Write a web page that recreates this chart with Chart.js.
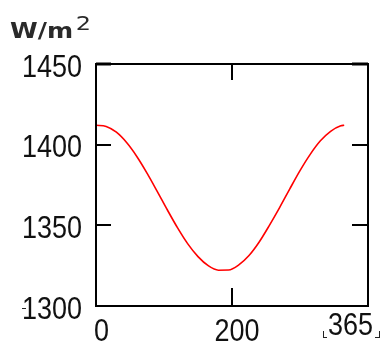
<!DOCTYPE html>
<html>
<head>
<meta charset="utf-8">
<script src="https://cdn.jsdelivr.net/npm/chart.js@4"></script>
<style>
    html, body { margin: 0; padding: 0; background: #fff; }
    #wrap { width: 381px; height: 341px; position: relative; }
</style>
</head>
<body>
<div id="wrap"><canvas id="chartSol"></canvas></div>
<script>
// day of year and irradiance
var dias = [0, 15, 30, 45, 60, 75, 90, 105, 120, 135, 150, 165, 180, 195, 210, 225, 240, 255, 270, 285, 300, 315, 330, 345, 360, 365];
var irradiancia = [1412.0, 1411.3, 1407.7, 1401.3, 1392.7, 1382.4, 1371.1, 1359.5, 1348.4, 1338.5, 1330.6, 1325.0, 1322.2, 1322.3, 1325.5, 1331.3, 1339.7, 1350.0, 1361.0, 1372.6, 1383.9, 1394.0, 1402.4, 1408.3, 1411.7, 1412.0];

var ticksY = [1450, 1400, 1350, 1300];
var ticksX = [0, 200];
var limiteX = 400;      // right end of the x axis
var rotuloLimiteX = "365";
var titulo = "W/m";

var fonte = "27px 'Liberation Sans', Arial, sans-serif";
var esticarY = 1.14;

function textoEsticado(ctx, str, x, baseline, align) {
    ctx.save();
    ctx.font = fonte;
    ctx.textAlign = align;
    ctx.textBaseline = "alphabetic";
    ctx.translate(x, baseline);
    ctx.scale(1, esticarY);
    ctx.fillText(str, 0, 0);
    ctx.restore();
}

// fits glyph box of str into width w, with the cap height of "ref" equal to h
function textoAjustado(ctx, str, ref, font, x, baseline, w, h) {
    ctx.save();
    ctx.font = font;
    ctx.textAlign = "left";
    ctx.textBaseline = "alphabetic";
    const m = ctx.measureText(str);
    const gw = m.actualBoundingBoxRight + m.actualBoundingBoxLeft;
    const gh = ctx.measureText(ref).actualBoundingBoxAscent;
    ctx.translate(x, baseline);
    ctx.scale(w / gw, h / gh);
    ctx.fillText(str, m.actualBoundingBoxLeft, 0);
    ctx.restore();
}

function linha(ctx, x1, y1, x2, y2) {
    ctx.beginPath();
    ctx.moveTo(x1, y1);
    ctx.lineTo(x2, y2);
    ctx.stroke();
}

const eixosMathcad = {
    id: "eixosMathcad",
    afterDraw(chart) {
        const ctx = chart.ctx;
        const a = chart.chartArea;
        const sx = chart.scales.x;
        const sy = chart.scales.y;

        ctx.save();
        ctx.strokeStyle = "#000";
        ctx.lineWidth = 2;
        ctx.strokeRect(a.left, a.top, a.right - a.left, a.bottom - a.top);

        // inward ticks
        ticksY.forEach(v => {
            const y = Math.round(sy.getPixelForValue(v));
            linha(ctx, a.left, y, a.left + 15, y);
            linha(ctx, a.right - 16, y, a.right, y);
        });
        ctx.lineWidth = 3;
        linha(ctx, a.left, a.top, a.left + 15, a.top);
        linha(ctx, a.right - 16, a.top, a.right, a.top);
        ctx.lineWidth = 2;
        ticksX.forEach(v => {
            if (v === 0) return;
            const x = Math.round(sx.getPixelForValue(v));
            linha(ctx, x, a.top, x, a.top + 16);
            linha(ctx, x, a.bottom - 18, x, a.bottom);
        });

        // tick labels
        ctx.fillStyle = "#111";
        ticksY.forEach(v => {
            const y = sy.getPixelForValue(v);
            textoEsticado(ctx, String(v), 82, y + 12.5, "right");
        });
        ticksX.forEach(v => {
            const x = sx.getPixelForValue(v);
            if (v === 0) textoEsticado(ctx, "0", x - 2, 341, "left");
            else textoEsticado(ctx, String(v), x + 5, 341, "center");
        });
        textoEsticado(ctx, rotuloLimiteX, sx.getPixelForValue(limiteX) + 5, 335, "right");

        // limit brackets
        ctx.lineWidth = 1;
        ctx.strokeStyle = "#222";
        linha(ctx, 323.5, 331, 323.5, 337.5);
        linha(ctx, 323, 337.5, 327, 337.5);
        linha(ctx, 379.5, 331, 379.5, 337.5);
        linha(ctx, 375, 337.5, 380, 337.5);
        linha(ctx, 22, 308.5, 26, 308.5);

        // units
        ctx.fillStyle = "#2a2a2a";
        textoAjustado(ctx, titulo, "W", "bold 20px 'DejaVu Sans', sans-serif", 10, 38, 62, 15);
        textoAjustado(ctx, "2", "2", "20px 'DejaVu Sans', sans-serif", 77, 30, 12, 14);
        ctx.restore();
    }
};

const pontos = dias.map((d, i) => ({ x: d, y: irradiancia[i] }));

new Chart(document.getElementById("chartSol"), {
    type: "line",
    data: {
        datasets: [{
            data: pontos,
            borderColor: "#ff0000",
            borderWidth: 1.6,
            pointRadius: 0,
            cubicInterpolationMode: "monotone",
            fill: false
        }]
    },
    options: {
        responsive: true,
        maintainAspectRatio: false,
        animation: false,
        layout: { padding: { left: 96, right: 13, top: 64, bottom: 35 } },
        plugins: {
            legend: { display: false },
            tooltip: { enabled: false }
        },
        scales: {
            x: { type: "linear", min: 0, max: limiteX, display: false },
            y: { type: "linear", min: 1300, max: 1450, display: false }
        }
    },
    plugins: [eixosMathcad]
});
</script>
</body>
</html>
